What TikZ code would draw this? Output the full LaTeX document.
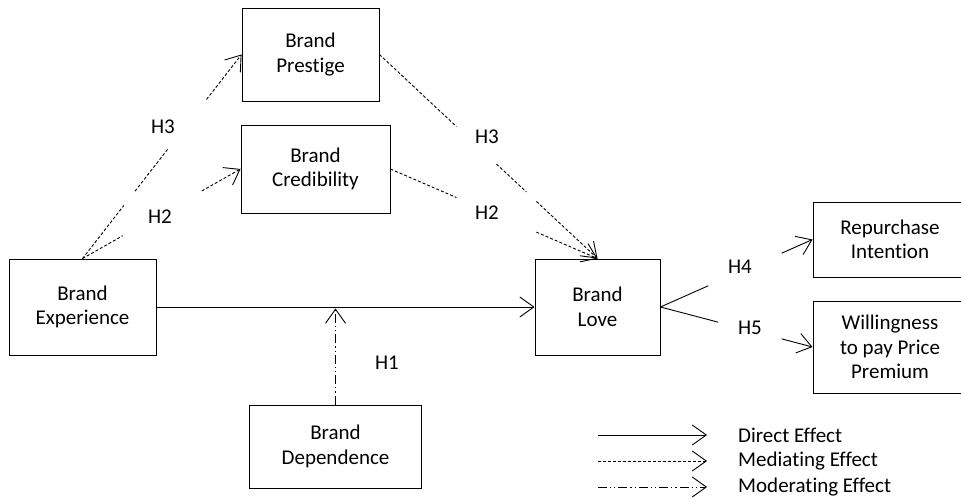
\documentclass[tikz,border=0pt]{standalone}
\usepackage{fontspec}
\setmainfont{Carlito}[Ligatures=NoCommon]
\usetikzlibrary{arrows.meta,calc}
\begin{document}
\begin{tikzpicture}[x=1pt,y=-1pt,
  box/.style={draw,line width=0.9pt,rectangle,inner sep=0pt,align=center,
    font=\fontsize{21}{24.5}\selectfont},
  lbl/.style={inner sep=0pt,font=\fontsize{21}{24.5}\selectfont},
  tip/.style={-{Straight Barb[length=14pt,width=20pt,line width=0.9pt]}},
  direct/.style={line width=0.9pt},
  mediating/.style={line width=0.9pt,dash pattern=on 3pt off 2pt},
  moderating/.style={line width=0.9pt,dash pattern=on 9pt off 3pt on 1.2pt off 3pt on 1.2pt off 3pt}]
\useasboundingbox (0,0) rectangle (961,502);
% boxes
\node[box,minimum width=137pt,minimum height=93pt] (pres) at (310.5,54.5) {Brand\\Prestige};
\node[box,minimum width=149pt,minimum height=88pt] (cred) at (315.5,169) {Brand\\Credibility};
\node[box,minimum width=147pt,minimum height=96pt] (exp) at (82.5,307) {Brand\\Experience};
\node[box,minimum width=172pt,minimum height=83pt] (dep) at (335.5,446.5) {Brand\\Dependence};
\node[box,minimum width=125pt,minimum height=96pt] (love) at (597.5,307) {Brand\\Love};
\node[box,minimum width=154pt,minimum height=75pt] (rep) at (890,239.5) {Repurchase\\Intention};
\node[box,minimum width=154pt,minimum height=92pt] (will) at (890,347) {Willingness\\to pay Price\\Premium};
% labels
\node[lbl] (h3a) at (163,127) {H3};
\node[lbl] (h2a) at (160,217) {H2};
\node[lbl] (h3b) at (487,137) {H3};
\node[lbl] (h2b) at (487,213) {H2};
\node[lbl] (h1) at (387,363) {H1};
\node[lbl] (h4) at (740,267) {H4};
\node[lbl] (h5) at (750,328) {H5};
% helper coordinates
\coordinate (e) at (exp.north);
\coordinate (pw) at (pres.west);
\coordinate (cw) at (cred.west);
\coordinate (pe) at (pres.east);
\coordinate (ce) at (cred.east);
\coordinate (ln) at (love.north);
\coordinate (le) at (love.east);
\coordinate (rw) at (rep.west);
\coordinate (ww) at (will.west);
% Experience -> Prestige
\draw[mediating] (e) -- ($(e)!0.26!(pw)$);
\draw[mediating] ($(e)!0.33!(pw)$) -- ($(e)!0.535!(pw)$);
\draw[mediating,tip] ($(e)!0.78!(pw)$) -- (pw);
% Experience -> Credibility
\draw[mediating] (e) -- ($(e)!0.255!(cw)$);
\draw[mediating,tip] ($(e)!0.755!(cw)$) -- (cw);
% Prestige -> Love
\draw[mediating] (pe) -- ($(pe)!0.353!(ln)$);
\draw[mediating] ($(pe)!0.537!(ln)$) -- ($(pe)!0.674!(ln)$);
\draw[mediating,tip] ($(pe)!0.72!(ln)$) -- (ln);
% Credibility -> Love
\draw[mediating] (ce) -- ($(ce)!0.319!(ln)$);
\draw[mediating,tip] ($(ce)!0.705!(ln)$) -- (ln);
% Experience -> Love
\draw[direct,tip] (exp.east) -- (love.west);
% moderation
\coordinate (mod) at (dep.north |- exp.east);
\draw[moderating,tip] (dep.north) -- ($(mod)+(0,1.5)$);
% Love -> outcomes
\draw[direct] (le) -- ($(le)!0.314!(rw)$);
\draw[direct,tip] ($(le)!0.797!(rw)$) -- (rw);
\draw[direct] (le) -- ($(le)!0.379!(ww)$);
\draw[direct,tip] ($(le)!0.797!(ww)$) -- (ww);
% legend
\coordinate (l1a) at (598,435); \coordinate (l1b) at (707,435);
\coordinate (l2a) at (598,461); \coordinate (l2b) at (707,461);
\coordinate (l3a) at (598,487); \coordinate (l3b) at (707,487);
\draw[direct,tip] (l1a) -- (l1b);
\draw[mediating,tip] (l2a) -- (l2b);
\draw[moderating,tip] (l3a) -- (l3b);
\node[lbl,anchor=west] (t1) at (738,435) {Direct Effect};
\node[lbl,anchor=west] (t2) at (738,461) {Mediating Effect};
\node[lbl,anchor=west] (t3) at (738,487) {Moderating Effect};
\end{tikzpicture}
\end{document}
